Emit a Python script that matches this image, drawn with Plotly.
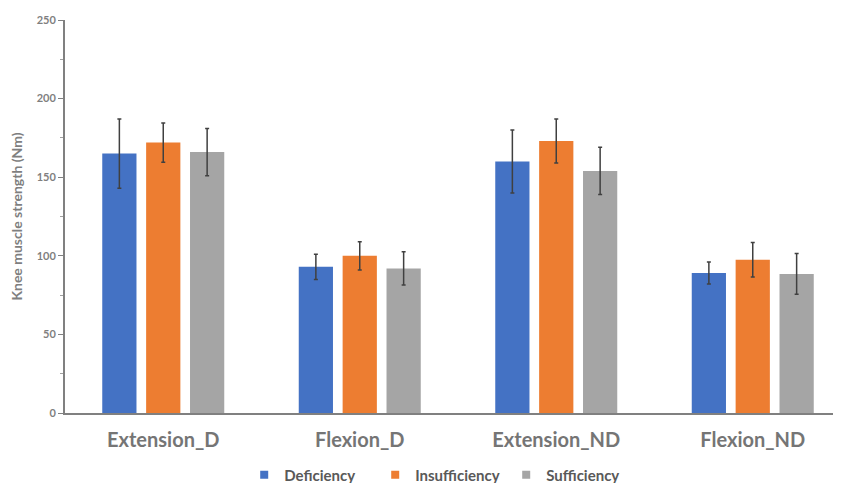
import plotly.graph_objects as go

categories = ["Extension_D", "Flexion_D", "Extension_ND", "Flexion_ND"]
series_names = ["Deficiency", "Insufficiency", "Sufficiency"]
deficiency = [165, 93, 160, 89]
deficiency_err = [22, 8, 20, 7]
insufficiency = [172, 100, 173, 97.5]
insufficiency_err = [12.5, 9, 14, 11]
sufficiency = [166, 92, 154, 88.5]
sufficiency_err = [15, 10.5, 15, 13]
y_ticks = [0, 50, 100, 150, 200, 250]

colors = ["#4472C4", "#ED7D31", "#A5A5A5"]
values = [deficiency, insufficiency, sufficiency]
errs = [deficiency_err, insufficiency_err, sufficiency_err]

fig = go.Figure()
for name, v, e, c in zip(series_names, values, errs, colors):
    fig.add_trace(go.Bar(
        x=categories, y=v, name=name, marker=dict(color=c, line=dict(width=0)),
        error_y=dict(type="data", array=e, visible=True, color="#404040", thickness=1.5, width=2),
        showlegend=False,
    ))
for name, c in zip(series_names, colors):
    fig.add_trace(go.Scatter(
        x=[None], y=[None], mode="markers", name=name,
        marker=dict(symbol="square", size=8, color=c),
    ))

font_fam = "Lato, 'Open Sans', sans-serif"
# page body has an 8px margin, so the figure is offset by 8px
fig.update_layout(
    width=843, height=475,
    margin=dict(l=57, r=0, t=12, b=70, autoexpand=False),
    paper_bgcolor="white", plot_bgcolor="white",
    barmode="group", bargap=0.33, bargroupgap=0.22,
    font=dict(family=font_fam, color="#7F7F7F"),
    legend=dict(orientation="h", x=0.228, xanchor="left", y=-0.158, yanchor="middle",
                font=dict(size=15, color="#595959", family=font_fam, weight="bold"),
                itemwidth=30, traceorder="normal", tracegroupgap=0,
                entrywidth=86, entrywidthmode="pixels"),
    showlegend=True,
)
fig.update_xaxes(
    showline=True, linecolor="#808080", linewidth=2,
    ticks="outside", ticklen=8, tickcolor="rgba(0,0,0,0)",
    tickfont=dict(size=20, color="#757575", family=font_fam, weight="bold"),
    showgrid=False, zeroline=False, automargin=False,
)
fig.update_yaxes(
    range=[0, 250], tickvals=y_ticks,
    showline=True, linecolor="#808080", linewidth=2,
    ticks="outside", ticklen=5, tickcolor="#808080", tickwidth=1,
    minor=dict(dtick=25, ticks="outside", ticklen=3, tickcolor="#A0A0A0"),
    tickfont=dict(size=11, color="#7F7F7F", family=font_fam, weight="bold"),
    title=dict(text="Knee muscle strength (Nm)", standoff=11,
               font=dict(size=14, color="#7F7F7F", family=font_fam, weight="bold")),
    showgrid=False, zeroline=False, automargin=False,
)
fig.write_html("out.html")
